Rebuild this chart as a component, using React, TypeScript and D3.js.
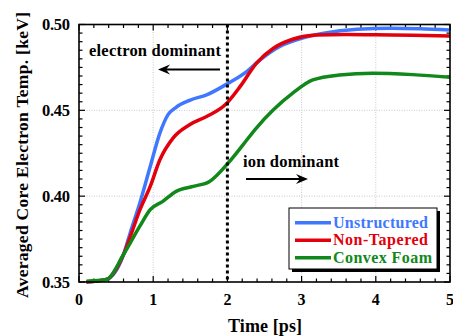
import React from "react";
import * as d3 from "d3";

const blueT = [0.1, 0.37, 0.6, 0.69, 0.82, 0.96, 1.09, 1.2, 1.3, 1.5, 1.72, 2.0, 2.26, 2.44, 2.7, 3.0, 3.3, 3.75, 4.2, 4.6, 5.0];
const blueY = [0.35, 0.3515, 0.366, 0.3786, 0.396, 0.4173, 0.4367, 0.4475, 0.4515, 0.456, 0.459, 0.4655, 0.4726, 0.4794, 0.4871, 0.492, 0.4949, 0.4972, 0.4978, 0.4975, 0.4968];
const redT = [0.1, 0.37, 0.6, 0.7, 0.82, 0.96, 1.09, 1.27, 1.49, 1.72, 1.97, 2.17, 2.39, 2.62, 2.88, 3.2, 3.6, 4.0, 4.5, 5.0];
const redY = [0.35, 0.3515, 0.366, 0.3775, 0.392, 0.4057, 0.4212, 0.434, 0.4416, 0.4464, 0.4532, 0.4638, 0.4774, 0.4862, 0.4914, 0.4939, 0.4942, 0.494, 0.4938, 0.4933];
const greenT = [0.1, 0.37, 0.6, 0.82, 0.96, 1.13, 1.31, 1.54, 1.76, 2.01, 2.21, 2.39, 2.62, 2.88, 3.15, 3.51, 3.96, 4.5, 5.0];
const greenY = [0.3505, 0.3515, 0.366, 0.3825, 0.3922, 0.397, 0.4028, 0.4057, 0.4086, 0.4193, 0.4299, 0.4397, 0.4503, 0.46, 0.4677, 0.4706, 0.4716, 0.4708, 0.4693];

const seriesNames = ["Unstructured", "Non-Tapered", "Convex Foam"];
const seriesColors = ["#3f78ff", "#e2000c", "#11881a"];
const legendWidths = [95, 95, 99];
const xTicks = [0, 1, 2, 3, 4, 5];
const yTicks = [0.35, 0.4, 0.45, 0.5];

const W = 453, H = 336;
const M = { l: 79, r: 450, t: 24.5, b: 282 };
const TS: React.CSSProperties = { fontFamily: '"Liberation Serif", "DejaVu Serif", serif', fontWeight: 700 };

export default function App() {
  const x = d3.scaleLinear().domain([0, 5]).range([M.l, M.r]);
  const y = d3.scaleLinear().domain([0.35, 0.5]).range([M.b, M.t]);
  const line = d3.line<[number, number]>().x(d => x(d[0])).y(d => y(d[1])).curve(d3.curveMonotoneX);
  const series = [
    blueT.map((t, i) => [t, blueY[i]] as [number, number]),
    redT.map((t, i) => [t, redY[i]] as [number, number]),
    greenT.map((t, i) => [t, greenY[i]] as [number, number]),
  ];
  const xMinor = d3.range(0, 5.0001, 0.2);
  const yMinor = d3.range(0.35, 0.50001, 0.005);
  const legX = 289, legY = 208, legW = 148, legH = 61;
  return (
    <svg width={W} height={H} style={{ position: "absolute", left: 0, top: 0 }}>
      <rect x={0} y={0} width={W} height={H} fill="#fff" />
      {xTicks.slice(1, -1).map(t => (
        <line key={"gx" + t} x1={x(t)} x2={x(t)} y1={M.t} y2={M.b} stroke="#bbb" strokeWidth={0.8} strokeDasharray="1,1.5" />
      ))}
      {yTicks.slice(1, -1).map(t => (
        <line key={"gy" + t} x1={M.l} x2={M.r} y1={y(t)} y2={y(t)} stroke="#bbb" strokeWidth={0.8} strokeDasharray="1,1.5" />
      ))}
      {xMinor.map((t, i) => {
        const major = i % 5 === 0;
        const L = major ? 6 : 3.5;
        return (
          <g key={"xt" + i}>
            <line x1={x(t)} x2={x(t)} y1={M.b} y2={M.b - L} stroke="#000" strokeWidth={1.2} />
            <line x1={x(t)} x2={x(t)} y1={M.t} y2={M.t + L} stroke="#000" strokeWidth={1.2} />
          </g>
        );
      })}
      {yMinor.map((t, i) => {
        const major = i % 10 === 0;
        const L = major ? 6 : 3.5;
        return (
          <g key={"yt" + i}>
            <line x1={M.l} x2={M.l + L} y1={y(t)} y2={y(t)} stroke="#000" strokeWidth={1.2} />
            <line x1={M.r} x2={M.r - L} y1={y(t)} y2={y(t)} stroke="#000" strokeWidth={1.2} />
          </g>
        );
      })}
      {series.map((s, i) => (
        <path key={"s" + i} d={line(s) || ""} fill="none" stroke={seriesColors[i]} strokeWidth={3.5} strokeLinejoin="round" />
      ))}
      <line x1={x(2)} x2={x(2)} y1={M.t} y2={M.b} stroke="#000" strokeWidth={3} strokeDasharray="3,3" />
      <rect x={M.l} y={M.t} width={M.r - M.l} height={M.b - M.t} fill="none" stroke="#000" strokeWidth={1.6} />
      {xTicks.map(t => (
        <text key={"xl" + t} x={x(t)} y={305} textAnchor="middle" fontSize={16} style={TS}>{t}</text>
      ))}
      {yTicks.map(t => (
        <text key={"yl" + t} x={70} y={y(t) + 5.5} textAnchor="end" fontSize={16.5} textLength={28} lengthAdjust="spacing" style={TS}>{t.toFixed(2)}</text>
      ))}
      <text x={228} y={332} fontSize={18} textLength={74} lengthAdjust="spacing" style={TS}>Time [ps]</text>
      <text transform={`translate(28,155) rotate(-90)`} textAnchor="middle" fontSize={17.5} textLength={286} lengthAdjust="spacing" style={TS}>Averaged Core Electron Temp. [keV]</text>
      <text x={89} y={56} fontSize={16.5} textLength={132} lengthAdjust="spacing" style={TS}>electron dominant</text>
      <line x1={220} x2={163} y1={69.5} y2={69.5} stroke="#000" strokeWidth={2} />
      <path d="M158,69.5 L170,64.5 L166,69.5 L170,74.5 Z" fill="#000" />
      <text x={243} y={166.5} fontSize={16.5} textLength={96} lengthAdjust="spacing" style={TS}>ion dominant</text>
      <line x1={246} x2={303} y1={179} y2={179} stroke="#000" strokeWidth={2} />
      <path d="M308,179 L296,174 L300,179 L296,184 Z" fill="#000" />
      <rect x={legX + 3} y={legY + 3} width={legW} height={legH} fill="#000" />
      <rect x={legX} y={legY} width={legW} height={legH} fill="#fff" stroke="#000" strokeWidth={1} />
      {seriesNames.map((n, i) => (
        <g key={"lg" + i}>
          <line x1={295} x2={331} y1={222.7 + i * 17.5} y2={222.7 + i * 17.5} stroke={seriesColors[i]} strokeWidth={3.5} />
          <text x={333} y={227.5 + i * 17.5} fontSize={16} textLength={legendWidths[i]} lengthAdjust="spacing" fill={seriesColors[i]} style={TS}>{n}</text>
        </g>
      ))}
    </svg>
  );
}
